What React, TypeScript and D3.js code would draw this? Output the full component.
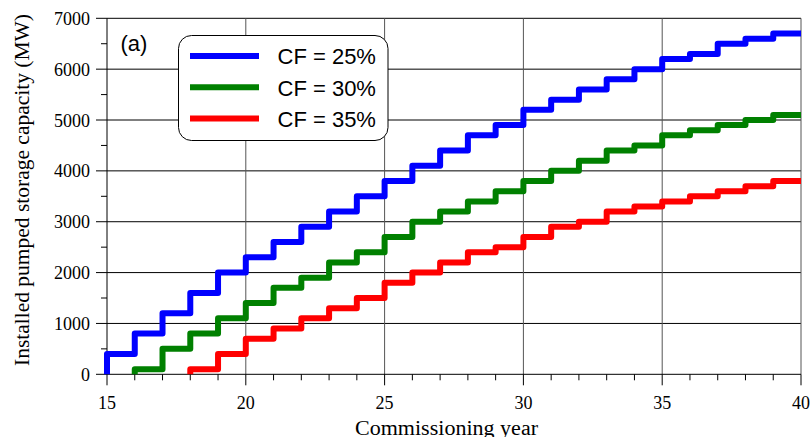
import React from "react";
import * as d3 from "d3";

const xTickValues = [15, 20, 25, 30, 35, 40];
const yTickValues = [0, 1000, 2000, 3000, 4000, 5000, 6000, 7000];
const seriesNames = ["CF = 25%", "CF = 30%", "CF = 35%"];
const seriesColors = ["#0000ff", "#008000", "#ff0000"];
const seriesStartYears = [15, 16, 18];
const cf25Values = [400, 800, 1200, 1600, 2000, 2300, 2600, 2900, 3200, 3500, 3800, 4100, 4400, 4700, 4900, 5200, 5400, 5600, 5800, 6000, 6200, 6300, 6500, 6600, 6700];
const cf30Values = [100, 500, 800, 1100, 1400, 1700, 1900, 2200, 2400, 2700, 3000, 3200, 3400, 3600, 3800, 4000, 4200, 4400, 4500, 4700, 4800, 4900, 5000, 5100];
const cf35Values = [100, 400, 700, 900, 1100, 1300, 1500, 1800, 2000, 2200, 2400, 2500, 2700, 2900, 3000, 3200, 3300, 3400, 3500, 3600, 3700, 3800];
const seriesValues = [cf25Values, cf30Values, cf35Values];

const W = 811, H = 437;
const left = 107, right = 801, top = 18.3, bottom = 374.3;

export default function App() {
  const x = d3.scaleLinear().domain([15, 40]).range([left, right]);
  const y = d3.scaleLinear().domain([0, 7000]).range([bottom, top]);
  const line = d3.line<[number, number]>().x(d => x(d[0])).y(d => y(d[1])).curve(d3.curveStepAfter);

  const minorX = d3.range(15, 41, 1);
  const minorY = d3.range(0, 7001, 500);

  const paths = seriesValues.map((vals, i) => {
    const s = seriesStartYears[i];
    const pts: [number, number][] = [[s, 0]];
    vals.forEach((v, j) => pts.push([s + j, v]));
    pts.push([40, vals[vals.length - 1]]);
    return line(pts) as string;
  });

  const serif = "'Liberation Serif', 'Times New Roman', serif";
  const sans = "'Liberation Sans', Arial, sans-serif";

  return (
    <svg width={W} height={H} style={{ position: "absolute", left: 0, top: 0, background: "#fff" }}>
      {/* grid */}
      {yTickValues.filter(v => v > 0).map(v => (
        <line key={"gy" + v} x1={left} x2={right} y1={y(v)} y2={y(v)} stroke="#000" strokeWidth={1} />
      ))}
      {xTickValues.filter(v => v > 15).map(v => (
        <line key={"gx" + v} x1={x(v)} x2={x(v)} y1={top} y2={bottom} stroke="#555" strokeWidth={1} />
      ))}
      {/* axes */}
      <line x1={left} x2={left} y1={top} y2={bottom} stroke="#000" strokeWidth={1} />
      <line x1={left} x2={right} y1={bottom} y2={bottom} stroke="#000" strokeWidth={1} />
      {minorY.map(v => (
        <line key={"ty" + v} x1={left - (v % 1000 === 0 ? 11 : 6)} x2={left} y1={y(v)} y2={y(v)} stroke="#000" strokeWidth={1} />
      ))}
      {minorX.map(v => (
        <line key={"tx" + v} x1={x(v)} x2={x(v)} y1={bottom} y2={bottom + (v % 5 === 0 ? 11 : 6)} stroke="#000" strokeWidth={1} />
      ))}
      {yTickValues.map(v => (
        <text key={"ly" + v} x={left - 17} y={y(v) + 6.5} textAnchor="end" fontFamily={serif} fontSize={18} fill="#000">{v}</text>
      ))}
      {xTickValues.map(v => (
        <text key={"lx" + v} x={x(v)} y={409} textAnchor="middle" fontFamily={serif} fontSize={18} fill="#000">{v}</text>
      ))}
      <text x={355} y={435} textLength={183} lengthAdjust="spacingAndGlyphs" fontFamily={serif} fontSize={20} fill="#000">Commissioning year</text>
      <text transform={`translate(29, ${190 + 176}) rotate(-90)`} textLength={352} lengthAdjust="spacingAndGlyphs" fontFamily={serif} fontSize={20} fill="#000">Installed pumped storage capacity (MW)</text>

      {/* series */}
      {paths.map((d, i) => (
        <path key={"p" + i} d={d} fill="none" stroke={seriesColors[i]} strokeWidth={6} strokeLinejoin="round" />
      ))}

      <text x={120.5} y={51} fontFamily={sans} fontSize={22} fill="#000">(a)</text>

      {/* legend */}
      <rect x={178.5} y={35.5} width={209.5} height={105} rx={13} ry={13} fill="#fff" stroke="#000" strokeWidth={1} />
      {seriesNames.map((n, i) => (
        <g key={"lg" + i}>
          <line x1={190} x2={259} y1={56 + i * 31.2} y2={56 + i * 31.2} stroke={seriesColors[i]} strokeWidth={6} />
          <text x={277.5} y={64.3 + i * 31.2} fontFamily={sans} fontSize={22} fill="#000">{n}</text>
        </g>
      ))}
    </svg>
  );
}
